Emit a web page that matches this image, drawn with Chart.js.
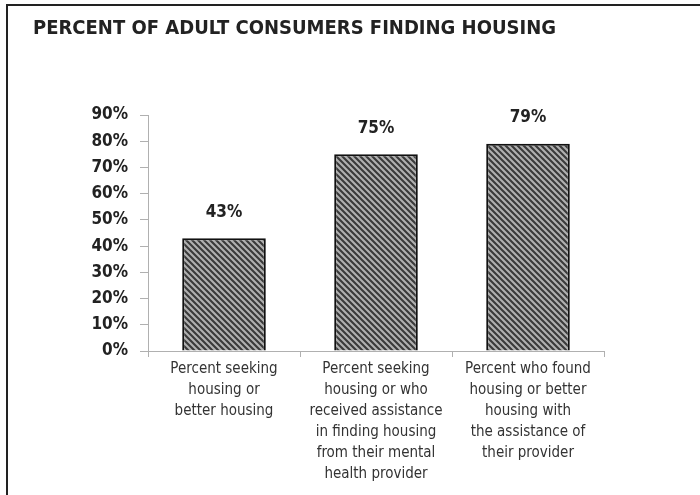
<!DOCTYPE html>
<html>
<head>
<meta charset="utf-8">
<script src="https://cdn.jsdelivr.net/npm/chart.js@4.4.1/dist/chart.umd.min.js"></script>
<style>
  html, body { margin: 0; padding: 0; background: #fff; }
  #frame {
    position: absolute; left: 6px; top: 4px; width: 700px; height: 500px;
    border-top: 2px solid #222; border-left: 2px solid #222;
  }
  #housingChart { position: absolute; left: 0; top: 0; }
</style>
</head>
<body>
<div id="frame"></div>
<canvas id="housingChart" width="700" height="495"></canvas>
<script>
// chart data
const chartTitle = "PERCENT OF ADULT CONSUMERS FINDING HOUSING"
const categories = [
  ["Percent seeking", "housing or", "better housing"],
  ["Percent seeking", "housing or who", "received assistance", "in finding housing", "from their mental", "health provider"],
  ["Percent who found", "housing or better", "housing with", "the assistance of", "their provider"]
]
const percents = [43, 75, 79]
const yTicks = [0, 10, 20, 30, 40, 50, 60, 70, 80, 90]

const narrow = "'Liberation Sans Narrow', 'DejaVu Sans Condensed', 'Liberation Sans', sans-serif"

// striped fill for the bars
function makeHatch(){
  const c = document.createElement("canvas")
  c.width = 6
  c.height = 6
  const g = c.getContext("2d")
  g.fillStyle = "#b0b0b0"
  g.fillRect(0, 0, 6, 6)
  g.strokeStyle = "#3a3a3a"
  g.lineWidth = 2.1
  g.beginPath()
  for (let k = -6; k <= 6; k += 6){
    g.moveTo(-1, k - 1)
    g.lineTo(7, k + 7)
  }
  g.stroke()
  return g.createPattern(c, "repeat")
}

// title + value labels
const extras = {
  id: "extras",
  afterDatasetsDraw(chart){
    const ctx = chart.ctx
    ctx.save()
    ctx.fillStyle = "#222"
    ctx.textBaseline = "middle"
    ctx.textAlign = "left"
    ctx.font = "bold 20px " + narrow
    ctx.fillText(chartTitle, 33, 29)

    ctx.textAlign = "center"
    ctx.font = "bold 17px " + narrow
    chart.getDatasetMeta(0).data.forEach(function(bar, i){
      ctx.fillText(percents[i] + "%", bar.x, bar.y - 26)
    })
    ctx.restore()
  }
}

new Chart(document.getElementById("housingChart"), {
  type: "bar",
  data: {
    labels: categories,
    datasets: [{
      data: percents,
      backgroundColor: makeHatch(),
      borderColor: "#111",
      borderWidth: 2,
      categoryPercentage: 1,
      barPercentage: 0.55
    }]
  },
  options: {
    responsive: false,
    animation: false,
    devicePixelRatio: 1,
    layout: { padding: { top: 115, right: 96, bottom: 0, left: 0 } },
    plugins: { legend: { display: false }, title: { display: false }, tooltip: { enabled: false } },
    scales: {
      y: {
        min: 0,
        max: 90,
        afterFit: function(s){ s.width = 148 },
        afterBuildTicks: function(s){ s.ticks = yTicks.map(v => ({ value: v })) },
        border: { color: "#b0b0b0", width: 1 },
        grid: { drawOnChartArea: false, tickLength: 8, color: "#b0b0b0" },
        ticks: {
          padding: 12,
          color: "#222",
          font: { family: narrow, size: 17, weight: "bold" },
          callback: function(v){ return v + "%" }
        }
      },
      x: {
        afterFit: function(s){ s.height = 144 },
        border: { color: "#b0b0b0", width: 1 },
        grid: { drawOnChartArea: false, tickLength: 6, color: "#b0b0b0", offset: true },
        ticks: {
          padding: 2,
          maxRotation: 0,
          autoSkip: false,
          color: "#333",
          font: { family: narrow, size: 15, lineHeight: 1.4 }
        }
      }
    }
  },
  plugins: [extras]
})
</script>
</body>
</html>
